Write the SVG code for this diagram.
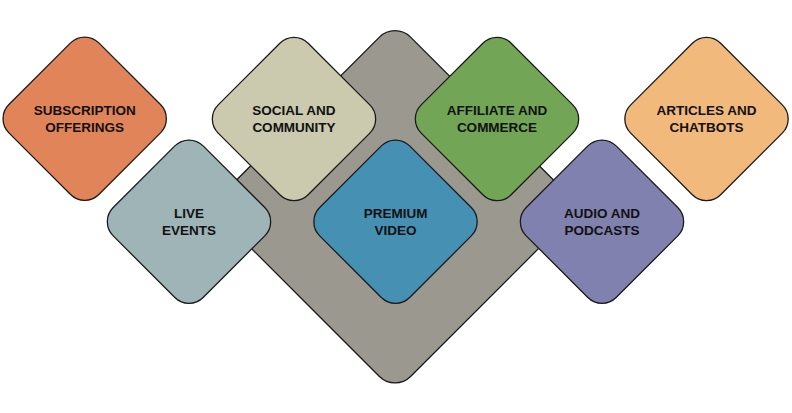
<svg xmlns="http://www.w3.org/2000/svg" width="792" height="413" viewBox="0 0 792 413">
<style>
  .d{stroke:#1a1a1a;stroke-width:1.3}
  .t{font-family:"Liberation Sans",Arial,sans-serif;font-weight:bold;font-size:13.5px;fill:#111;text-anchor:middle}
</style>
<defs>
  <rect id="sq" x="-63.6" y="-63.6" width="127.2" height="127.2" rx="20" ry="20"/>
</defs>
<rect width="792" height="413" fill="#ffffff"/>
<g id="core">
  <rect class="d" x="-131" y="-131" width="262" height="262" rx="22" ry="22" fill="#9b9890" transform="translate(395,206.8) rotate(45)"/>
</g>
<g id="connectors"></g>
<g id="subscription">
  <use href="#sq" class="d" fill="#e2845a" transform="translate(84.7,118.7) rotate(45)"/>
  <text class="t" x="84.7" y="114.7">SUBSCRIPTION</text>
  <text class="t" x="84.7" y="131.7">OFFERINGS</text>
</g>
<g id="social">
  <use href="#sq" class="d" fill="#cbc9ae" transform="translate(294,119) rotate(45)"/>
  <text class="t" x="294" y="115">SOCIAL AND</text>
  <text class="t" x="294" y="132">COMMUNITY</text>
</g>
<g id="affiliate">
  <use href="#sq" class="d" fill="#72a555" transform="translate(497,119) rotate(45)"/>
  <text class="t" x="497" y="115">AFFILIATE AND</text>
  <text class="t" x="497" y="132">COMMERCE</text>
</g>
<g id="articles">
  <use href="#sq" class="d" fill="#f2b97c" transform="translate(706.5,119) rotate(45)"/>
  <text class="t" x="706.5" y="115">ARTICLES AND</text>
  <text class="t" x="706.5" y="132">CHATBOTS</text>
</g>
<g id="live">
  <use href="#sq" class="d" fill="#9fb4b7" transform="translate(189,221.7) rotate(45)"/>
  <text class="t" x="189" y="217.7">LIVE</text>
  <text class="t" x="189" y="234.7">EVENTS</text>
</g>
<g id="premium">
  <use href="#sq" class="d" fill="#4690b4" transform="translate(395.5,221.7) rotate(45)"/>
  <text class="t" x="395.5" y="217.7">PREMIUM</text>
  <text class="t" x="395.5" y="234.7">VIDEO</text>
</g>
<g id="audio">
  <use href="#sq" class="d" fill="#8081ae" transform="translate(602,221.7) rotate(45)"/>
  <text class="t" x="602" y="217.7">AUDIO AND</text>
  <text class="t" x="602" y="234.7">PODCASTS</text>
</g>
</svg>
